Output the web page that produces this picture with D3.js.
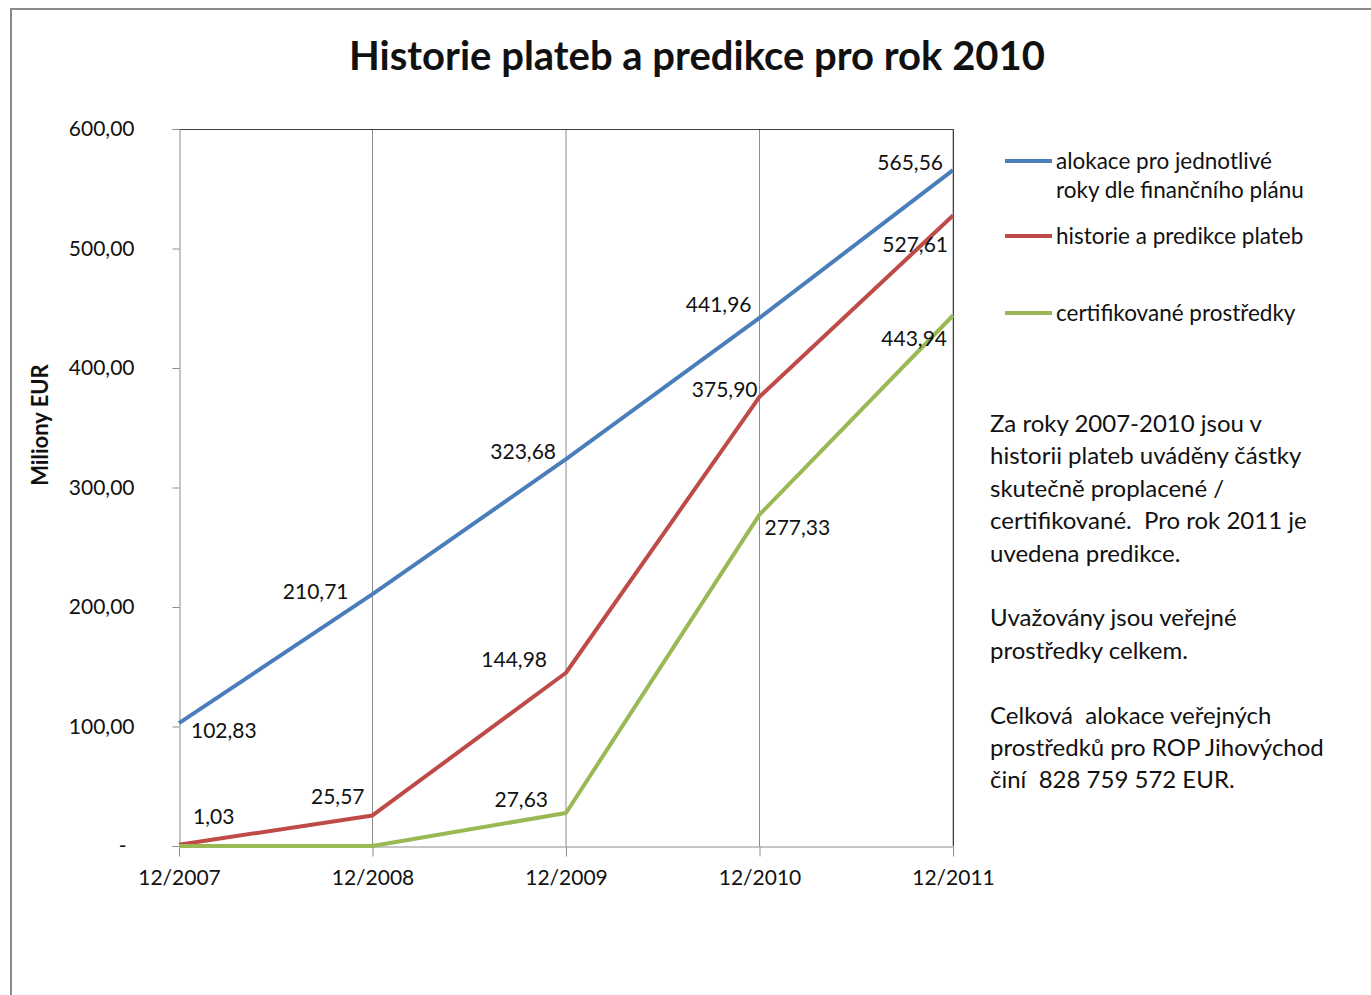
<!DOCTYPE html>
<html>
<head>
<meta charset="utf-8">
<style>
  body { margin: 0; background: #fff; }
  text { font-family: Lato, "Open Sans", sans-serif; fill: #111; white-space: pre; }
</style>
</head>
<body>
<script src="https://d3js.org/d3.v7.min.js"></script>
<script>
var width = 1371, height = 995;

var categories = ["12/2007", "12/2008", "12/2009", "12/2010", "12/2011"];
var alokace = [102.83, 210.71, 323.68, 441.96, 565.56];
var platby = [1.03, 25.57, 144.98, 375.90, 527.61];
var certifikovane = [0, 0, 27.63, 277.33, 443.94];
var yTicks = [0, 100, 200, 300, 400, 500, 600];
var seriesNames = ["alokace pro jednotlivé|roky dle finančního plánu", "historie a predikce plateb", "certifikované prostředky"];
var noteLines = ["Za roky 2007-2010 jsou v", "historii plateb uváděny částky", "skutečně proplacené /",
  "certifikované.  Pro rok 2011 je", "uvedena predikce.", "", "Uvažovány jsou veřejné",
  "prostředky celkem.", "", "Celková  alokace veřejných", "prostředků pro ROP Jihovýchod", "činí  828 759 572 EUR."];

// label offsets (dx, dy, anchor) from each point; null = no label
var blueOff = [[12, 8, "start"], [-24, -3, "end"], [-10, -8, "end"], [-8, -13, "end"], [-10, -8, "end"]];
var redOff = [[14, -28, "start"], [-8, -19, "end"], [-19, -13, "end"], [-2, -7, "end"], [-5, 29, "end"]];
var greenOff = [null, null, [-18, -13, "end"], [5, 13, "start"], [-6, 23, "end"]];

var series = [
  {values: alokace, color: "#4a7ebb", off: blueOff},
  {values: platby, color: "#be4b48", off: redOff},
  {values: certifikovane, color: "#98b954", off: greenOff}
];

var svg = d3.select("body").append("svg")
    .attr("width", width)
    .attr("height", height);

// outer chart frame (runs off the right and bottom edges)
svg.append("path")
    .attr("d", "M11,1000 V9 H1380")
    .attr("fill", "none")
    .attr("stroke", "#8a8a8a")
    .attr("stroke-width", 2);

svg.append("text")
    .attr("x", 697).attr("y", 70)
    .attr("text-anchor", "middle")
    .style("font-size", "40px")
    .style("font-weight", "bold")
    .text("Historie plateb a predikce pro rok 2010");

var x = d3.scalePoint().domain(categories).range([179, 953]);
var y = d3.scaleLinear().domain([0, 600]).range([846, 129]);

// vertical gridlines
svg.append("g").selectAll("line")
  .data(categories.slice(1))
  .enter().append("line")
    .attr("x1", function(d) { return x(d); })
    .attr("x2", function(d) { return x(d); })
    .attr("y1", y(600)).attr("y2", y(0))
    .attr("stroke", "#8c8c8c");

// plot border top/right
svg.append("path")
    .attr("d", "M" + x(categories[0]) + "," + (y(600) + 0.5) + " H" + (x(categories[4]) + 0.5) + " V" + y(0))
    .attr("fill", "none")
    .attr("stroke", "#404040");

var fmt = function(v) { return v === 0 ? "-" : d3.format(".2f")(v).replace(".", ","); };

var yAxis = svg.append("g")
    .attr("transform", "translate(" + (x(categories[0]) + 0.5) + ",0)")
    .call(d3.axisLeft(y).tickValues(yTicks).tickSize(7).tickFormat(fmt));
yAxis.selectAll("text").style("font-size", "21px").attr("fill", "#111")
    .attr("dx", function(d) { return d === 0 ? "-8" : "0"; });
yAxis.selectAll("line, path").attr("stroke", "#8c8c8c");
yAxis.selectAll(".tick text").attr("x", -45);

var xAxis = svg.append("g")
    .attr("transform", "translate(0," + (y(0) + 0.5) + ")")
    .call(d3.axisBottom(x).tickSize(10).tickPadding(14).tickSizeOuter(0));
xAxis.selectAll("text").style("font-size", "21px").attr("fill", "#111");
xAxis.selectAll("line, path").attr("stroke", "#8c8c8c");

svg.append("text")
    .attr("transform", "translate(48,425) rotate(-90)")
    .attr("text-anchor", "middle")
    .style("font-size", "22px")
    .style("font-weight", "bold")
    .text("Miliony EUR");

var line = d3.line()
    .x(function(d, i) { return x(categories[i]); })
    .y(function(d) { return y(d); });

series.forEach(function(s) {
  svg.append("path")
      .datum(s.values)
      .attr("d", line)
      .attr("fill", "none")
      .attr("stroke", s.color)
      .attr("stroke-width", 4)
      .attr("stroke-linejoin", "round");
});

series.forEach(function(s) {
  svg.append("g").selectAll("text")
    .data(s.values.map(function(v, i) { return {v: v, i: i, o: s.off[i]}; }).filter(function(d) { return d.o; }))
    .enter().append("text")
      .attr("x", function(d) { return x(categories[d.i]) + d.o[0]; })
      .attr("y", function(d) { return y(d.v) + d.o[1]; })
      .attr("dy", "0.35em")
      .attr("text-anchor", function(d) { return d.o[2]; })
      .style("font-size", "21px")
      .text(function(d) { return fmt(d.v); });
});

// legend
var legendY = [161, 236, 313];
var legend = svg.append("g").selectAll("g")
  .data(series)
  .enter().append("g")
    .attr("transform", function(d, i) { return "translate(1005," + legendY[i] + ")"; });
legend.append("line")
    .attr("x1", 0).attr("x2", 47)
    .attr("stroke", function(d) { return d.color; })
    .attr("stroke-width", 4);
legend.append("text")
    .attr("x", 51)
    .style("font-size", "22.5px")
    .each(function(d, i) {
      var parts = seriesNames[i].split("|");
      var t = d3.select(this);
      parts.forEach(function(p, j) {
        t.append("tspan").attr("x", 51).attr("dy", j === 0 ? "0.35em" : 29).text(p);
      });
    });

// annotation
var note = svg.append("text")
    .attr("x", 990).attr("y", 432)
    .style("font-size", "24px");
noteLines.forEach(function(l, i) {
  note.append("tspan").attr("x", 990).attr("y", 432 + i * 32.4).text(l);
});
</script>
</body>
</html>
